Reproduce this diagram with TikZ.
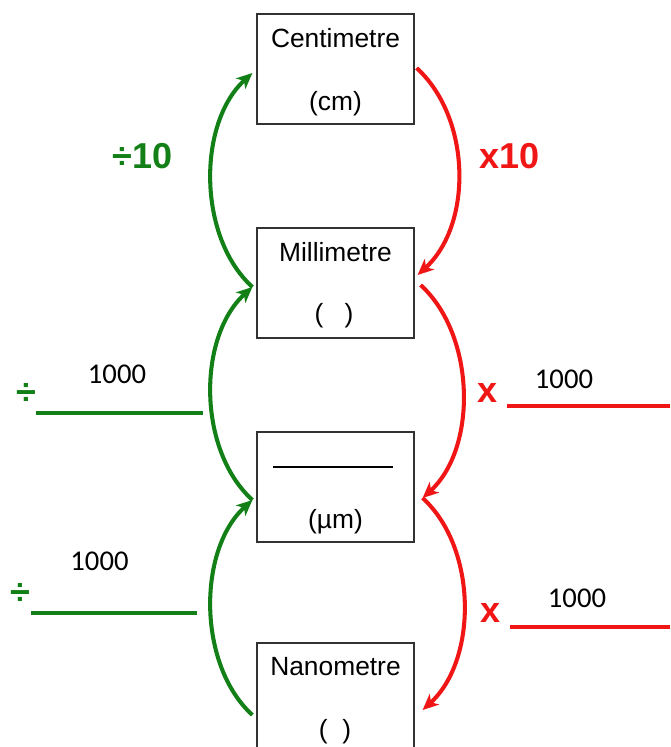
\documentclass[tikz,border=0pt]{standalone}
\usepackage{fontspec}
\setmainfont{Liberation Sans}
\newfontfamily\calib{Carlito}
\usetikzlibrary{arrows.meta,calc}
\definecolor{grn}{RGB}{18,128,22}
\definecolor{rd}{RGB}{240,22,22}
\definecolor{bord}{RGB}{50,50,50}
\tikzset{
  unitbox/.style={draw=bord,line width=0.7pt,minimum width=3.14cm,minimum height=2.2cm,inner sep=0pt},
  boxtxt/.style={anchor=base,inner sep=0pt,font=\fontsize{15}{18}\selectfont},
  optxt/.style={inner sep=0pt,font=\fontsize{20.5}{24}\selectfont\bfseries},
  numtxt/.style={anchor=base,inner sep=0pt,font=\calib\fontsize{16.3}{19}\selectfont},
  garrow/.style={draw=grn,line width=2.3pt,-{Stealth[length=9pt,width=8pt,inset=2.5pt]}},
  rarrow/.style={draw=rd,line width=2.3pt,-{Stealth[length=9pt,width=8pt,inset=2.5pt]}},
  gblank/.style={draw=grn,line width=2pt},
  rblank/.style={draw=rd,line width=2pt}
}
\begin{document}
\begin{tikzpicture}[x=0.02cm,y=-0.02cm]
\clip (0,0) rectangle (670,747);
\fill[white] (0,0) rectangle (670,747);
% boxes
\node[unitbox] (cm) at (335.5,69) {};
\node[unitbox] (mm) at (335.5,283) {};
\node[unitbox] (um) at (335.5,487) {};
\node[unitbox] (nm) at (335.5,698) {};
% box texts
\node[boxtxt] (cmname) at (335.5,47) {Centimetre};
\node[boxtxt] (cmabbr) at (335.5,110) {(cm)};
\node[boxtxt] (mmname) at (335.5,261) {Millimetre};
\node[boxtxt] (mmabbr) at (334,322) {(\hspace{0.8em})};
\draw[line width=1.3pt,black] (273,467) -- (393,467);
\node[boxtxt] (umabbr) at (335.5,528) {(µm)};
\node[boxtxt] (nmname) at (335.5,675) {Nanometre};
\node[boxtxt] (nmabbr) at (335,738) {(\hspace{0.55em})};
% attach points
\coordinate (cmL) at ($(cm.west)+(-4,4)$);
\coordinate (cmR) at ($(cm.east)+(2,-1)$);
\coordinate (mmL) at ($(mm.west)+(-4,4)$);
\coordinate (mmRi) at ($(mm.east)+(3,-8)$);
\coordinate (mmRo) at ($(mm.east)+(6,2)$);
\coordinate (umL) at ($(um.west)+(-4,13)$);
\coordinate (umR) at ($(um.east)+(8,11)$);
\coordinate (nmL) at ($(nm.west)+(-4,17)$);
\coordinate (nmR) at ($(nm.east)+(8,12)$);
% green arrows (upwards, left side)
\draw[garrow] (mmL) .. controls +(-55,-50) and +(-55,50) .. (cmL);
\draw[garrow] (umL) .. controls +(-55,-50) and +(-55,50) .. (mmL);
\draw[garrow] (nmL) .. controls +(-55,-50) and +(-55,50) .. (umL);
% red arrows (downwards, right side)
\draw[rarrow] (cmR) .. controls +(55,50) and +(55,-50) .. (mmRi);
\draw[rarrow] (mmRo) .. controls +(55,50) and +(55,-50) .. (umR);
\draw[rarrow] (umR) .. controls +(55,50) and +(55,-50) .. (nmR);
% operation labels
\node[optxt,text=grn,anchor=base] (div10) at (142.5,168) {÷10};
\node[optxt,text=rd,anchor=base] (mul10) at (509.5,168) {x10};
\node[optxt,text=grn] (div1) at (26,394) {÷};
\node[optxt,text=grn] (div2) at (20,594) {÷};
\node[optxt,text=rd,anchor=base] (mul1) at (488,402) {x};
\node[optxt,text=rd,anchor=base] (mul2) at (491,622) {x};
% numbers
\node[numtxt] (n1) at (117,383) {1000};
\node[numtxt] (n2) at (99.5,570) {1000};
\node[numtxt] (n3) at (564,388) {1000};
\node[numtxt] (n4) at (577,607) {1000};
% blanks
\draw[gblank] (36,413) -- (203,413);
\draw[gblank] (31,613) -- (197,613);
\draw[rblank] (507,406) -- (670,406);
\draw[rblank] (510,627) -- (670,627);
\end{tikzpicture}
\end{document}
